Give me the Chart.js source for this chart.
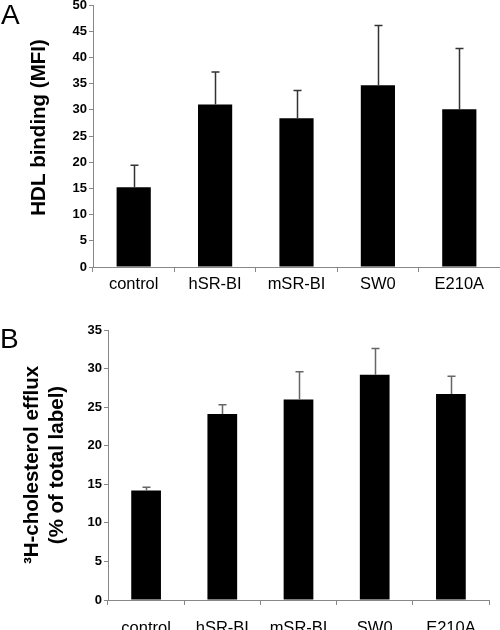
<!DOCTYPE html>
<html>
<head>
<meta charset="utf-8">
<script src="https://cdn.jsdelivr.net/npm/chart.js@4/dist/chart.umd.min.js"></script>
<style>
  body { margin: 0; background: #fff; width: 500px; height: 630px; position: relative; overflow: hidden; }
  .panel { position: absolute; left: 0; width: 500px; }
  #boxA { top: 0; height: 300px; }
  #boxB { top: 300px; height: 330px; }
  .letter { position: absolute; font-family: "Liberation Sans", Arial, sans-serif; font-size: 28px; color: #000; line-height: 1; }
</style>
</head>
<body>
<div class="panel" id="boxA"><canvas id="chartA" width="500" height="300"></canvas></div>
<div class="panel" id="boxB"><canvas id="chartB" width="500" height="330"></canvas></div>
<div class="letter" style="left:1px;top:1px">A</div>
<div class="letter" style="left:0px;top:325px">B</div>
<script>
const categories = ['control', 'hSR-BI', 'mSR-BI', 'SW0', 'E210A'];

// panel A: HDL binding (MFI)
const bindingMean = [15.2, 31.0, 28.4, 34.7, 30.1];
const bindingErr = [4.2, 6.2, 5.3, 11.4, 11.6];

// panel B: cholesterol efflux (% of total label)
const effluxMean = [14.2, 24.1, 26.0, 29.2, 26.7];
const effluxErr = [0.4, 1.2, 3.6, 3.4, 2.3];

const FONT = '"Liberation Sans", Arial, sans-serif';
const AXIS = '#888';

// draws upper error bars on top of each bar
const errorBars = {
  id: 'errorBars',
  afterDatasetsDraw(chart, args, opts) {
    const ctx = chart.ctx;
    const y = chart.scales.y;
    const meta = chart.getDatasetMeta(0);
    const ds = chart.data.datasets[0];
    ctx.save();
    ctx.strokeStyle = opts.color;
    ctx.lineWidth = 1.5;
    meta.data.forEach((bar, i) => {
      const top = y.getPixelForValue(ds.data[i] + ds.errors[i]);
      const x = Math.round(bar.x) + 0.5;
      ctx.beginPath();
      ctx.moveTo(x, bar.y);
      ctx.lineTo(x, top);
      ctx.moveTo(x - 4, top);
      ctx.lineTo(x + 4, top);
      ctx.stroke();
    });
    ctx.restore();
  }
};

function makeChart(id, mean, err, cfg) {
  return new Chart(document.getElementById(id), {
    type: 'bar',
    data: {
      labels: categories,
      datasets: [{
        data: mean,
        errors: err,
        backgroundColor: '#000',
        borderWidth: 0,
        barPercentage: 1,
        categoryPercentage: cfg.barFrac
      }]
    },
    options: {
      responsive: false,
      animation: false,
      layout: { padding: cfg.padding },
      plugins: {
        legend: { display: false },
        tooltip: { enabled: false },
        errorBars: { color: cfg.errColor }
      },
      scales: {
        x: {
          grid: { drawOnChartArea: false, color: AXIS, tickLength: 5 },
          border: { color: AXIS },
          ticks: { color: '#000', font: { family: FONT, size: 16.5 }, padding: cfg.xPad, maxRotation: 0 },
          afterFit: s => { s.height = cfg.xHeight; }
        },
        y: {
          min: 0,
          max: cfg.max,
          ticks: { stepSize: 5, color: '#000', font: { family: FONT, size: 13, weight: 'bold' }, padding: 2 },
          grid: { drawOnChartArea: false, color: AXIS, tickLength: 4 },
          border: { color: AXIS },
          title: {
            display: true,
            text: cfg.title,
            color: '#000',
            font: { family: FONT, size: 20.5, weight: 'bold', lineHeight: 1.22 },
            padding: { top: cfg.titlePad, bottom: 0 }
          },
          afterFit: s => { s.width = cfg.yWidth; s.paddingTop = 0; s.paddingBottom = 0; }
        }
      }
    },
    plugins: [errorBars]
  });
}

makeChart('chartA', bindingMean, bindingErr, {
  max: 50,
  barFrac: 0.42,
  errColor: '#333',
  padding: { top: 5, right: 0, left: 0, bottom: 0 },
  xPad: 3,
  xHeight: 33,
  yWidth: 93,
  titlePad: 27,
  // leading spaces nudge the centred title up a little, as in the original
  title: '   HDL binding (MFI)'
});

makeChart('chartB', effluxMean, effluxErr, {
  max: 35,
  barFrac: 0.39,
  errColor: '#666',
  padding: { top: 30, right: 11, left: 0, bottom: 0 },
  xPad: 14,
  xHeight: 30,
  yWidth: 108,
  titlePad: 20,
  title: ['\u00B3H-cholesterol efflux', '(% of total label)']
});
</script>
</body>
</html>
